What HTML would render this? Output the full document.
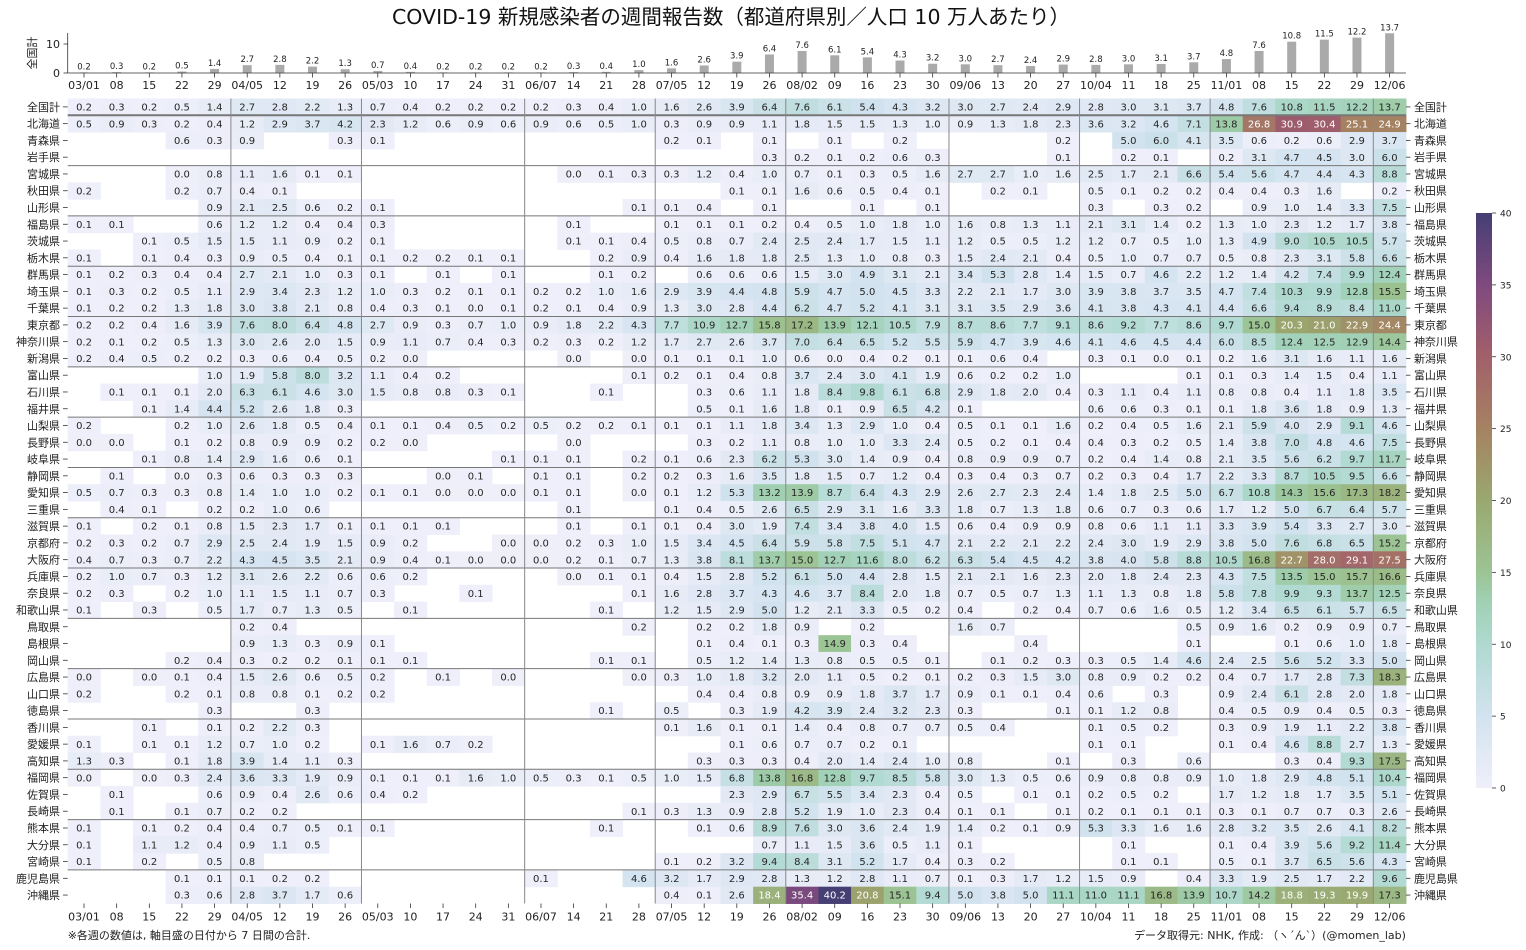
<!DOCTYPE html>
<html><head><meta charset="utf-8">
<style>
html,body{margin:0;padding:0;background:#fff;}
svg{display:block;font-family:"DejaVu Sans","Liberation Sans","Noto Sans CJK JP",sans-serif;}
</style></head>
<body>
<svg id="s" width="1526" height="950" xmlns="http://www.w3.org/2000/svg"></svg>
<script>
const rows=[
["全国計","0.2 0.3 0.2 0.5 1.4 2.7 2.8 2.2 1.3 0.7 0.4 0.2 0.2 0.2 0.2 0.3 0.4 1.0 1.6 2.6 3.9 6.4 7.6 6.1 5.4 4.3 3.2 3.0 2.7 2.4 2.9 2.8 3.0 3.1 3.7 4.8 7.6 10.8 11.5 12.2 13.7"],
["北海道","0.5 0.9 0.3 0.2 0.4 1.2 2.9 3.7 4.2 2.3 1.2 0.6 0.9 0.6 0.9 0.6 0.5 1.0 0.3 0.9 0.9 1.1 1.8 1.5 1.5 1.3 1.0 0.9 1.3 1.8 2.3 3.6 3.2 4.6 7.1 13.8 26.8 30.9 30.4 25.1 24.9"],
["青森県","_ _ _ 0.6 0.3 0.9 _ _ 0.3 0.1 _ _ _ _ _ _ _ _ 0.2 0.1 _ 0.1 _ 0.1 _ 0.2 _ _ _ _ 0.2 _ 5.0 6.0 4.1 3.5 0.6 0.2 0.6 2.9 3.7"],
["岩手県","_ _ _ _ _ _ _ _ _ _ _ _ _ _ _ _ _ _ _ _ _ 0.3 0.2 0.1 0.2 0.6 0.3 _ _ _ 0.1 _ 0.2 0.1 _ 0.2 3.1 4.7 4.5 3.0 6.0"],
["宮城県","_ _ _ 0.0 0.8 1.1 1.6 0.1 0.1 _ _ _ _ _ _ 0.0 0.1 0.3 0.3 1.2 0.4 1.0 0.7 0.1 0.3 0.5 1.6 2.7 2.7 1.0 1.6 2.5 1.7 2.1 6.6 5.4 5.6 4.7 4.4 4.3 8.8"],
["秋田県","0.2 _ _ 0.2 0.7 0.4 0.1 _ _ _ _ _ _ _ _ _ _ _ _ _ 0.1 0.1 1.6 0.6 0.5 0.4 0.1 _ 0.2 0.1 _ 0.5 0.1 0.2 0.2 0.4 0.4 0.3 1.6 _ 0.2"],
["山形県","_ _ _ _ 0.9 2.1 2.5 0.6 0.2 0.1 _ _ _ _ _ _ _ 0.1 0.1 0.4 _ 0.1 _ _ 0.1 _ 0.1 _ _ _ _ 0.3 _ 0.3 0.2 _ 0.9 1.0 1.4 3.3 7.5"],
["福島県","0.1 0.1 _ _ 0.6 1.2 1.2 0.4 0.4 0.3 _ _ _ _ _ 0.1 _ _ 0.1 0.1 0.1 0.2 0.4 0.5 1.0 1.8 1.0 1.6 0.8 1.3 1.1 2.1 3.1 1.4 0.2 1.3 1.0 2.3 1.2 1.7 3.8"],
["茨城県","_ _ 0.1 0.5 1.5 1.5 1.1 0.9 0.2 0.1 _ _ _ _ _ 0.1 0.1 0.4 0.5 0.8 0.7 2.4 2.5 2.4 1.7 1.5 1.1 1.2 0.5 0.5 1.2 1.2 0.7 0.5 1.0 1.3 4.9 9.0 10.5 10.5 5.7"],
["栃木県","0.1 _ 0.1 0.4 0.3 0.9 0.5 0.4 0.1 0.1 0.2 0.2 0.1 0.1 _ _ 0.2 0.9 0.4 1.6 1.8 1.8 2.5 1.3 1.0 0.8 0.3 1.5 2.4 2.1 0.4 0.5 1.0 0.7 0.7 0.5 0.8 2.3 3.1 5.8 6.6"],
["群馬県","0.1 0.2 0.3 0.4 0.4 2.7 2.1 1.0 0.3 0.1 _ 0.1 _ 0.1 _ _ 0.1 0.2 _ 0.6 0.6 0.6 1.5 3.0 4.9 3.1 2.1 3.4 5.3 2.8 1.4 1.5 0.7 4.6 2.2 1.2 1.4 4.2 7.4 9.9 12.4"],
["埼玉県","0.1 0.3 0.2 0.5 1.1 2.9 3.4 2.3 1.2 1.0 0.3 0.2 0.1 0.1 0.2 0.2 1.0 1.6 2.9 3.9 4.4 4.8 5.9 4.7 5.0 4.5 3.3 2.2 2.1 1.7 3.0 3.9 3.8 3.7 3.5 4.7 7.4 10.3 9.9 12.8 15.5"],
["千葉県","0.1 0.2 0.2 1.3 1.8 3.0 3.8 2.1 0.8 0.4 0.3 0.1 0.0 0.1 0.2 0.1 0.4 0.9 1.3 3.0 2.8 4.4 6.2 4.7 5.2 4.1 3.1 3.1 3.5 2.9 3.6 4.1 3.8 4.3 4.1 4.4 6.6 9.4 8.9 8.4 11.0"],
["東京都","0.2 0.2 0.4 1.6 3.9 7.6 8.0 6.4 4.8 2.7 0.9 0.3 0.7 1.0 0.9 1.8 2.2 4.3 7.7 10.9 12.7 15.8 17.2 13.9 12.1 10.5 7.9 8.7 8.6 7.7 9.1 8.6 9.2 7.7 8.6 9.7 15.0 20.3 21.0 22.9 24.4"],
["神奈川県","0.2 0.1 0.2 0.5 1.3 3.0 2.6 2.0 1.5 0.9 1.1 0.7 0.4 0.3 0.2 0.3 0.2 1.2 1.7 2.7 2.6 3.7 7.0 6.4 6.5 5.2 5.5 5.9 4.7 3.9 4.6 4.1 4.6 4.5 4.4 6.0 8.5 12.4 12.5 12.9 14.4"],
["新潟県","0.2 0.4 0.5 0.2 0.2 0.3 0.6 0.4 0.5 0.2 0.0 _ _ _ _ 0.0 _ 0.0 0.1 0.1 0.1 1.0 0.6 0.0 0.4 0.2 0.1 0.1 0.6 0.4 _ 0.3 0.1 0.0 0.1 0.2 1.6 3.1 1.6 1.1 1.6"],
["富山県","_ _ _ _ 1.0 1.9 5.8 8.0 3.2 1.1 0.4 0.2 _ _ _ _ _ 0.1 0.2 0.1 0.4 0.8 3.7 2.4 3.0 4.1 1.9 0.6 0.2 0.2 1.0 _ _ _ 0.1 0.1 0.3 1.4 1.5 0.4 1.1"],
["石川県","_ 0.1 0.1 0.1 2.0 6.3 6.1 4.6 3.0 1.5 0.8 0.8 0.3 0.1 _ _ 0.1 _ _ 0.3 0.6 1.1 1.8 8.4 9.8 6.1 6.8 2.9 1.8 2.0 0.4 0.3 1.1 0.4 1.1 0.8 0.8 0.4 1.1 1.8 3.5"],
["福井県","_ _ 0.1 1.4 4.4 5.2 2.6 1.8 0.3 _ _ _ _ _ _ _ _ _ _ 0.5 0.1 1.6 1.8 0.1 0.9 6.5 4.2 0.1 _ _ _ 0.6 0.6 0.3 0.1 0.1 1.8 3.6 1.8 0.9 1.3"],
["山梨県","0.2 _ _ 0.2 1.0 2.6 1.8 0.5 0.4 0.1 0.1 0.4 0.5 0.2 0.5 0.2 0.2 0.1 0.1 0.1 1.1 1.8 3.4 1.3 2.9 1.0 0.4 0.5 0.1 0.1 1.6 0.2 0.4 0.5 1.6 2.1 5.9 4.0 2.9 9.1 4.6"],
["長野県","0.0 0.0 _ 0.1 0.2 0.8 0.9 0.9 0.2 0.2 0.0 _ _ _ _ 0.0 _ _ _ 0.3 0.2 1.1 0.8 1.0 1.0 3.3 2.4 0.5 0.2 0.1 0.4 0.4 0.3 0.2 0.5 1.4 3.8 7.0 4.8 4.6 7.5"],
["岐阜県","_ _ 0.1 0.8 1.4 2.9 1.6 0.6 0.1 _ _ _ _ 0.1 0.1 0.1 _ 0.2 0.1 0.6 2.3 6.2 5.3 3.0 1.4 0.9 0.4 0.8 0.9 0.9 0.7 0.2 0.4 1.4 0.8 2.1 3.5 5.6 6.2 9.7 11.7"],
["静岡県","_ 0.1 _ 0.0 0.3 0.6 0.3 0.3 0.3 _ _ 0.0 0.1 _ 0.1 0.1 _ 0.2 0.2 0.3 1.6 3.5 1.8 1.5 0.7 1.2 0.4 0.3 0.4 0.3 0.7 0.2 0.3 0.4 1.7 2.2 3.3 8.7 10.5 9.5 6.6"],
["愛知県","0.5 0.7 0.3 0.3 0.8 1.4 1.0 1.0 0.2 0.1 0.1 0.0 0.0 0.0 0.1 0.1 _ 0.0 0.1 1.2 5.3 13.2 13.9 8.7 6.4 4.3 2.9 2.6 2.7 2.3 2.4 1.4 1.8 2.5 5.0 6.7 10.8 14.3 15.6 17.3 18.2"],
["三重県","_ 0.4 0.1 _ 0.2 0.2 1.0 0.6 _ _ _ _ _ _ _ 0.1 _ _ 0.1 0.4 0.5 2.6 6.5 2.9 3.1 1.6 3.3 1.8 0.7 1.3 1.8 0.6 0.7 0.3 0.6 1.7 1.2 5.0 6.7 6.4 5.7"],
["滋賀県","0.1 _ 0.2 0.1 0.8 1.5 2.3 1.7 0.1 0.1 0.1 0.1 _ _ _ 0.1 _ 0.1 0.1 0.4 3.0 1.9 7.4 3.4 3.8 4.0 1.5 0.6 0.4 0.9 0.9 0.8 0.6 1.1 1.1 3.3 3.9 5.4 3.3 2.7 3.0"],
["京都府","0.2 0.3 0.2 0.7 2.9 2.5 2.4 1.9 1.5 0.9 0.2 _ _ 0.0 0.0 0.2 0.3 1.0 1.5 3.4 4.5 6.4 5.9 5.8 7.5 5.1 4.7 2.1 2.2 2.1 2.2 2.4 3.0 1.9 2.9 3.8 5.0 7.6 6.8 6.5 15.2"],
["大阪府","0.4 0.7 0.3 0.7 2.2 4.3 4.5 3.5 2.1 0.9 0.4 0.1 0.0 0.0 0.0 0.2 0.1 0.7 1.3 3.8 8.1 13.7 15.0 12.7 11.6 8.0 6.2 6.3 5.4 4.5 4.2 3.8 4.0 5.8 8.8 10.5 16.8 22.7 28.0 29.1 27.5"],
["兵庫県","0.2 1.0 0.7 0.3 1.2 3.1 2.6 2.2 0.6 0.6 0.2 _ _ _ _ 0.0 0.1 0.1 0.4 1.5 2.8 5.2 6.1 5.0 4.4 2.8 1.5 2.1 2.1 1.6 2.3 2.0 1.8 2.4 2.3 4.3 7.5 13.5 15.0 15.7 16.6"],
["奈良県","0.2 0.3 _ 0.2 1.0 1.1 1.5 1.1 0.7 0.3 _ _ 0.1 _ _ _ _ 0.1 1.6 2.8 3.7 4.3 4.6 3.7 8.4 2.0 1.8 0.7 0.5 0.7 1.3 1.1 1.3 0.8 1.8 5.8 7.8 9.9 9.3 13.7 12.5"],
["和歌山県","0.1 _ 0.3 _ 0.5 1.7 0.7 1.3 0.5 _ 0.1 _ _ _ _ _ 0.1 _ 1.2 1.5 2.9 5.0 1.2 2.1 3.3 0.5 0.2 0.4 _ 0.2 0.4 0.7 0.6 1.6 0.5 1.2 3.4 6.5 6.1 5.7 6.5"],
["鳥取県","_ _ _ _ _ 0.2 0.4 _ _ _ _ _ _ _ _ _ _ 0.2 _ 0.2 0.2 1.8 0.9 _ 0.2 _ _ 1.6 0.7 _ _ _ _ _ 0.5 0.9 1.6 0.2 0.9 0.9 0.7"],
["島根県","_ _ _ _ _ 0.9 1.3 0.3 0.9 0.1 _ _ _ _ _ _ _ _ _ 0.1 0.4 0.1 0.3 14.9 0.3 0.4 _ _ _ 0.4 _ _ _ _ 0.1 _ _ 0.1 0.6 1.0 1.8"],
["岡山県","_ _ _ 0.2 0.4 0.3 0.2 0.2 0.1 0.1 0.1 _ _ _ _ _ 0.1 0.1 _ 0.5 1.2 1.4 1.3 0.8 0.5 0.5 0.1 _ 0.1 0.2 0.3 0.3 0.5 1.4 4.6 2.4 2.5 5.6 5.2 3.3 5.0"],
["広島県","0.0 _ 0.0 0.1 0.4 1.5 2.6 0.6 0.5 0.2 _ 0.1 _ 0.0 _ _ _ 0.0 0.3 1.0 1.8 3.2 2.0 1.1 0.5 0.2 0.1 0.2 0.3 1.5 3.0 0.8 0.9 0.2 0.2 0.4 0.7 1.7 2.8 7.3 18.3"],
["山口県","0.2 _ _ 0.2 0.1 0.8 0.8 0.1 0.2 0.2 _ _ _ _ _ _ _ _ _ 0.4 0.4 0.8 0.9 0.9 1.8 3.7 1.7 0.9 0.1 0.1 0.4 0.6 _ 0.3 _ 0.9 2.4 6.1 2.8 2.0 1.8"],
["徳島県","_ _ _ _ 0.3 _ _ 0.3 _ _ _ _ _ _ _ _ 0.1 _ 0.5 _ 0.3 1.9 4.2 3.9 2.4 3.2 2.3 0.3 _ _ 0.1 0.1 1.2 0.8 _ 0.4 0.5 0.9 0.4 0.5 0.3"],
["香川県","_ _ 0.1 _ 0.1 0.2 2.2 0.3 _ _ _ _ _ _ _ _ _ _ 0.1 1.6 0.1 0.1 1.4 0.4 0.8 0.7 0.7 0.5 0.4 _ _ 0.1 0.5 0.2 _ 0.3 0.9 1.9 1.1 2.2 3.8"],
["愛媛県","0.1 _ 0.1 0.1 1.2 0.7 1.0 0.2 _ 0.1 1.6 0.7 0.2 _ _ _ _ _ _ _ 0.1 0.6 0.7 0.7 0.2 0.1 _ _ _ _ _ 0.1 0.1 _ _ 0.1 0.4 4.6 8.8 2.7 1.3"],
["高知県","1.3 0.3 _ 0.1 1.8 3.9 1.4 1.1 0.3 _ _ _ _ _ _ _ _ _ _ 0.3 0.3 0.3 0.4 2.0 1.4 2.4 1.0 0.8 _ _ 0.1 _ 0.3 _ 0.6 _ _ 0.3 0.4 9.3 17.5"],
["福岡県","0.0 _ 0.0 0.3 2.4 3.6 3.3 1.9 0.9 0.1 0.1 0.1 1.6 1.0 0.5 0.3 0.1 0.5 1.0 1.5 6.8 13.8 16.8 12.8 9.7 8.5 5.8 3.0 1.3 0.5 0.6 0.9 0.8 0.8 0.9 1.0 1.8 2.9 4.8 5.1 10.4"],
["佐賀県","_ 0.1 _ _ 0.6 0.9 0.4 2.6 0.6 0.4 0.2 _ _ _ _ _ _ _ _ _ 2.3 2.9 6.7 5.5 3.4 2.3 0.4 0.5 _ 0.1 0.1 0.2 0.5 0.2 _ 1.7 1.2 1.8 1.7 3.5 5.1"],
["長崎県","_ 0.1 _ 0.1 0.7 0.2 0.2 _ _ _ _ _ _ _ _ _ _ 0.1 0.3 1.3 0.9 2.8 5.2 1.9 1.0 2.3 0.4 0.1 0.1 _ 0.1 0.2 0.1 0.1 0.1 0.3 0.1 0.7 0.7 0.3 2.6"],
["熊本県","0.1 _ 0.1 0.2 0.4 0.4 0.7 0.5 0.1 0.1 _ _ _ _ _ _ 0.1 _ _ 0.1 0.6 8.9 7.6 3.0 3.6 2.4 1.9 1.4 0.2 0.1 0.9 5.3 3.3 1.6 1.6 2.8 3.2 3.5 2.6 4.1 8.2"],
["大分県","0.1 _ 1.1 1.2 0.4 0.9 1.1 0.5 _ _ _ _ _ _ _ _ _ _ _ _ _ 0.7 1.1 1.5 3.6 0.5 1.1 0.1 _ _ _ _ 0.1 _ _ 0.1 0.4 3.9 5.6 9.2 11.4"],
["宮崎県","0.1 _ 0.2 _ 0.5 0.8 _ _ _ _ _ _ _ _ _ _ _ _ 0.1 0.2 3.2 9.4 8.4 3.1 5.2 1.7 0.4 0.3 0.2 _ _ _ 0.1 0.1 _ 0.5 0.1 3.7 6.5 5.6 4.3"],
["鹿児島県","_ _ _ 0.1 0.1 0.1 0.2 0.2 _ _ _ _ _ _ 0.1 _ _ 4.6 3.2 1.7 2.9 2.8 1.3 1.2 2.8 1.1 0.7 0.1 0.3 1.7 1.2 1.5 0.9 _ 0.4 3.3 1.9 2.5 1.7 2.2 9.6"],
["沖縄県","_ _ _ 0.3 0.6 2.8 3.7 1.7 0.6 _ _ _ _ _ _ _ _ _ 0.4 0.1 2.6 18.4 35.4 40.2 20.8 15.1 9.4 5.0 3.8 5.0 11.1 11.0 11.1 16.8 13.9 10.7 14.2 18.8 19.3 19.9 17.3"]
];
const dates=["03/01","08","15","22","29","04/05","12","19","26","05/03","10","17","24","31","06/07","14","21","28","07/05","12","19","26","08/02","09","16","23","30","09/06","13","20","27","10/04","11","18","25","11/01","08","15","22","29","12/06"];
const stops=[[0,[239,239,250]],[5,[210,227,239]],[10,[175,217,208]],[13,[160,208,180]],[15,[156,196,148]],[20,[154,168,112]],[25,[165,130,98]],[30,[162,96,106]],[35,[127,74,126]],[40,[69,63,116]]];
function col(v){v=Math.max(0,Math.min(40,v));for(let i=1;i<stops.length;i++){if(v<=stops[i][0]){const a=stops[i-1],b=stops[i],t=(v-a[0])/(b[0]-a[0]);return "rgb("+a[1].map((c,k)=>Math.round(c+(b[1][k]-c)*t)).join(",")+")";}}return "rgb(69,63,116)";}
const X0=67.7,CW=32.64,Y0=98.5,RH=16.77,N=41;
let h="";
rows.forEach((r,ri)=>{const vals=r[1].split(" ");const y=Y0+ri*RH;
 vals.forEach((s,ci)=>{if(s==="_")return;const v=parseFloat(s);const x=X0+ci*CW;
  h+='<rect x="'+x.toFixed(2)+'" y="'+y.toFixed(2)+'" width="'+(CW+0.5).toFixed(2)+'" height="'+(RH+0.5).toFixed(2)+'" fill="'+col(v)+'"/>';
  h+='<text x="'+(x+CW/2).toFixed(2)+'" y="'+(y+RH/2+3.6).toFixed(2)+'" font-size="10" text-anchor="middle" fill="'+(v>18.35?'#fff':'#262626')+'">'+s+'</text>';});
 const cy=(y+RH/2).toFixed(2);
 h+='<line x1="63" x2="67.7" y1="'+cy+'" y2="'+cy+'" stroke="#333" stroke-width="0.8"/>';
 h+='<text x="60" y="'+(y+RH/2+4).toFixed(2)+'" font-size="11" text-anchor="end" fill="#222">'+r[0]+'</text>';
 const xr=X0+N*CW;
 h+='<line x1="'+xr+'" x2="'+(xr+4.5)+'" y1="'+cy+'" y2="'+cy+'" stroke="#333" stroke-width="0.8"/>';
 h+='<text x="'+(xr+8)+'" y="'+(y+RH/2+4).toFixed(2)+'" font-size="11" fill="#222">'+r[0]+'</text>';
});
const XR=X0+N*CW, YB=Y0+48*RH;
[1,4,7,10,13,16,19,22,25,28,31,34,37,40,43,46].forEach(k=>{const y=Y0+k*RH;h+='<line x1="'+X0+'" x2="'+XR+'" y1="'+y+'" y2="'+y+'" stroke="#777" stroke-width="'+(k==1?2:1)+'"/>';});
[5,9,14,18,22,27,31,35,40].forEach(k=>{const x=X0+k*CW;h+='<line x1="'+x+'" x2="'+x+'" y1="'+Y0+'" y2="'+YB+'" stroke="#888" stroke-width="1"/>';});
dates.forEach((d,i)=>{const x=(X0+i*CW+CW/2).toFixed(2);
 h+='<line x1="'+x+'" x2="'+x+'" y1="'+YB+'" y2="'+(YB+4.5)+'" stroke="#333" stroke-width="0.8"/>';
 h+='<text x="'+x+'" y="'+(YB+17)+'" font-size="11" text-anchor="middle" fill="#222">'+d+'</text>';
 h+='<line x1="'+x+'" x2="'+x+'" y1="73" y2="77.5" stroke="#333" stroke-width="0.8"/>';
 h+='<text x="'+x+'" y="89" font-size="11" text-anchor="middle" fill="#222">'+d+'</text>';
});
const nat=rows[0][1].split(" ").map(parseFloat);
nat.forEach((v,i)=>{const cx=X0+i*CW+CW/2;const bh=v*2.9;
 h+='<rect x="'+(cx-4.5).toFixed(2)+'" y="'+(73-bh).toFixed(2)+'" width="9" height="'+bh.toFixed(2)+'" fill="#aaaaaa"/>';
 h+='<text x="'+cx.toFixed(2)+'" y="'+(73-bh-3).toFixed(2)+'" font-size="8.5" text-anchor="middle" fill="#222">'+v.toFixed(1)+'</text>';});
h+='<line x1="'+X0+'" x2="'+X0+'" y1="33" y2="73" stroke="#333" stroke-width="0.8"/>';
h+='<line x1="'+X0+'" x2="'+XR+'" y1="73" y2="73" stroke="#333" stroke-width="0.8"/>';
h+='<line x1="63.5" x2="'+X0+'" y1="73" y2="73" stroke="#333" stroke-width="0.8"/><line x1="63.5" x2="'+X0+'" y1="44" y2="44" stroke="#333" stroke-width="0.8"/>';
h+='<text x="60" y="77" font-size="11" text-anchor="end" fill="#222">0</text><text x="60" y="48" font-size="11" text-anchor="end" fill="#222">10</text>';
h+='<text transform="translate(36,53) rotate(-90)" font-size="11" text-anchor="middle" fill="#222">全国計</text>';
h+='<text x="731" y="24" font-size="20.5" text-anchor="middle" fill="#111">COVID-19 新規感染者の週間報告数（都道府県別／人口 10 万人あたり）</text>';
h+='<text x="'+X0+'" y="939" font-size="11" fill="#222">※各週の数値は, 軸目盛の日付から 7 日間の合計.</text>';
h+='<text x="'+XR+'" y="939" font-size="11" text-anchor="end" fill="#222">データ取得元: NHK, 作成: （ヽ´ん\u0060）(@momen_lab)</text>';
h+='<defs><linearGradient id="g" x1="0" y1="1" x2="0" y2="0">'+stops.map(s=>'<stop offset="'+(s[0]/40)+'" stop-color="'+col(s[0])+'"/>').join("")+'</linearGradient></defs>';
h+='<rect x="1476" y="213" width="16" height="575" fill="url(#g)"/>';
for(let t=0;t<=40;t+=5){const y=788-t*575/40;h+='<line x1="1492" x2="1496" y1="'+y+'" y2="'+y+'" stroke="#333" stroke-width="0.8"/><text x="1500" y="'+(y+3.5)+'" font-size="9" fill="#222">'+t+'</text>';}
document.getElementById("s").innerHTML=h;
</script>
</body></html>
